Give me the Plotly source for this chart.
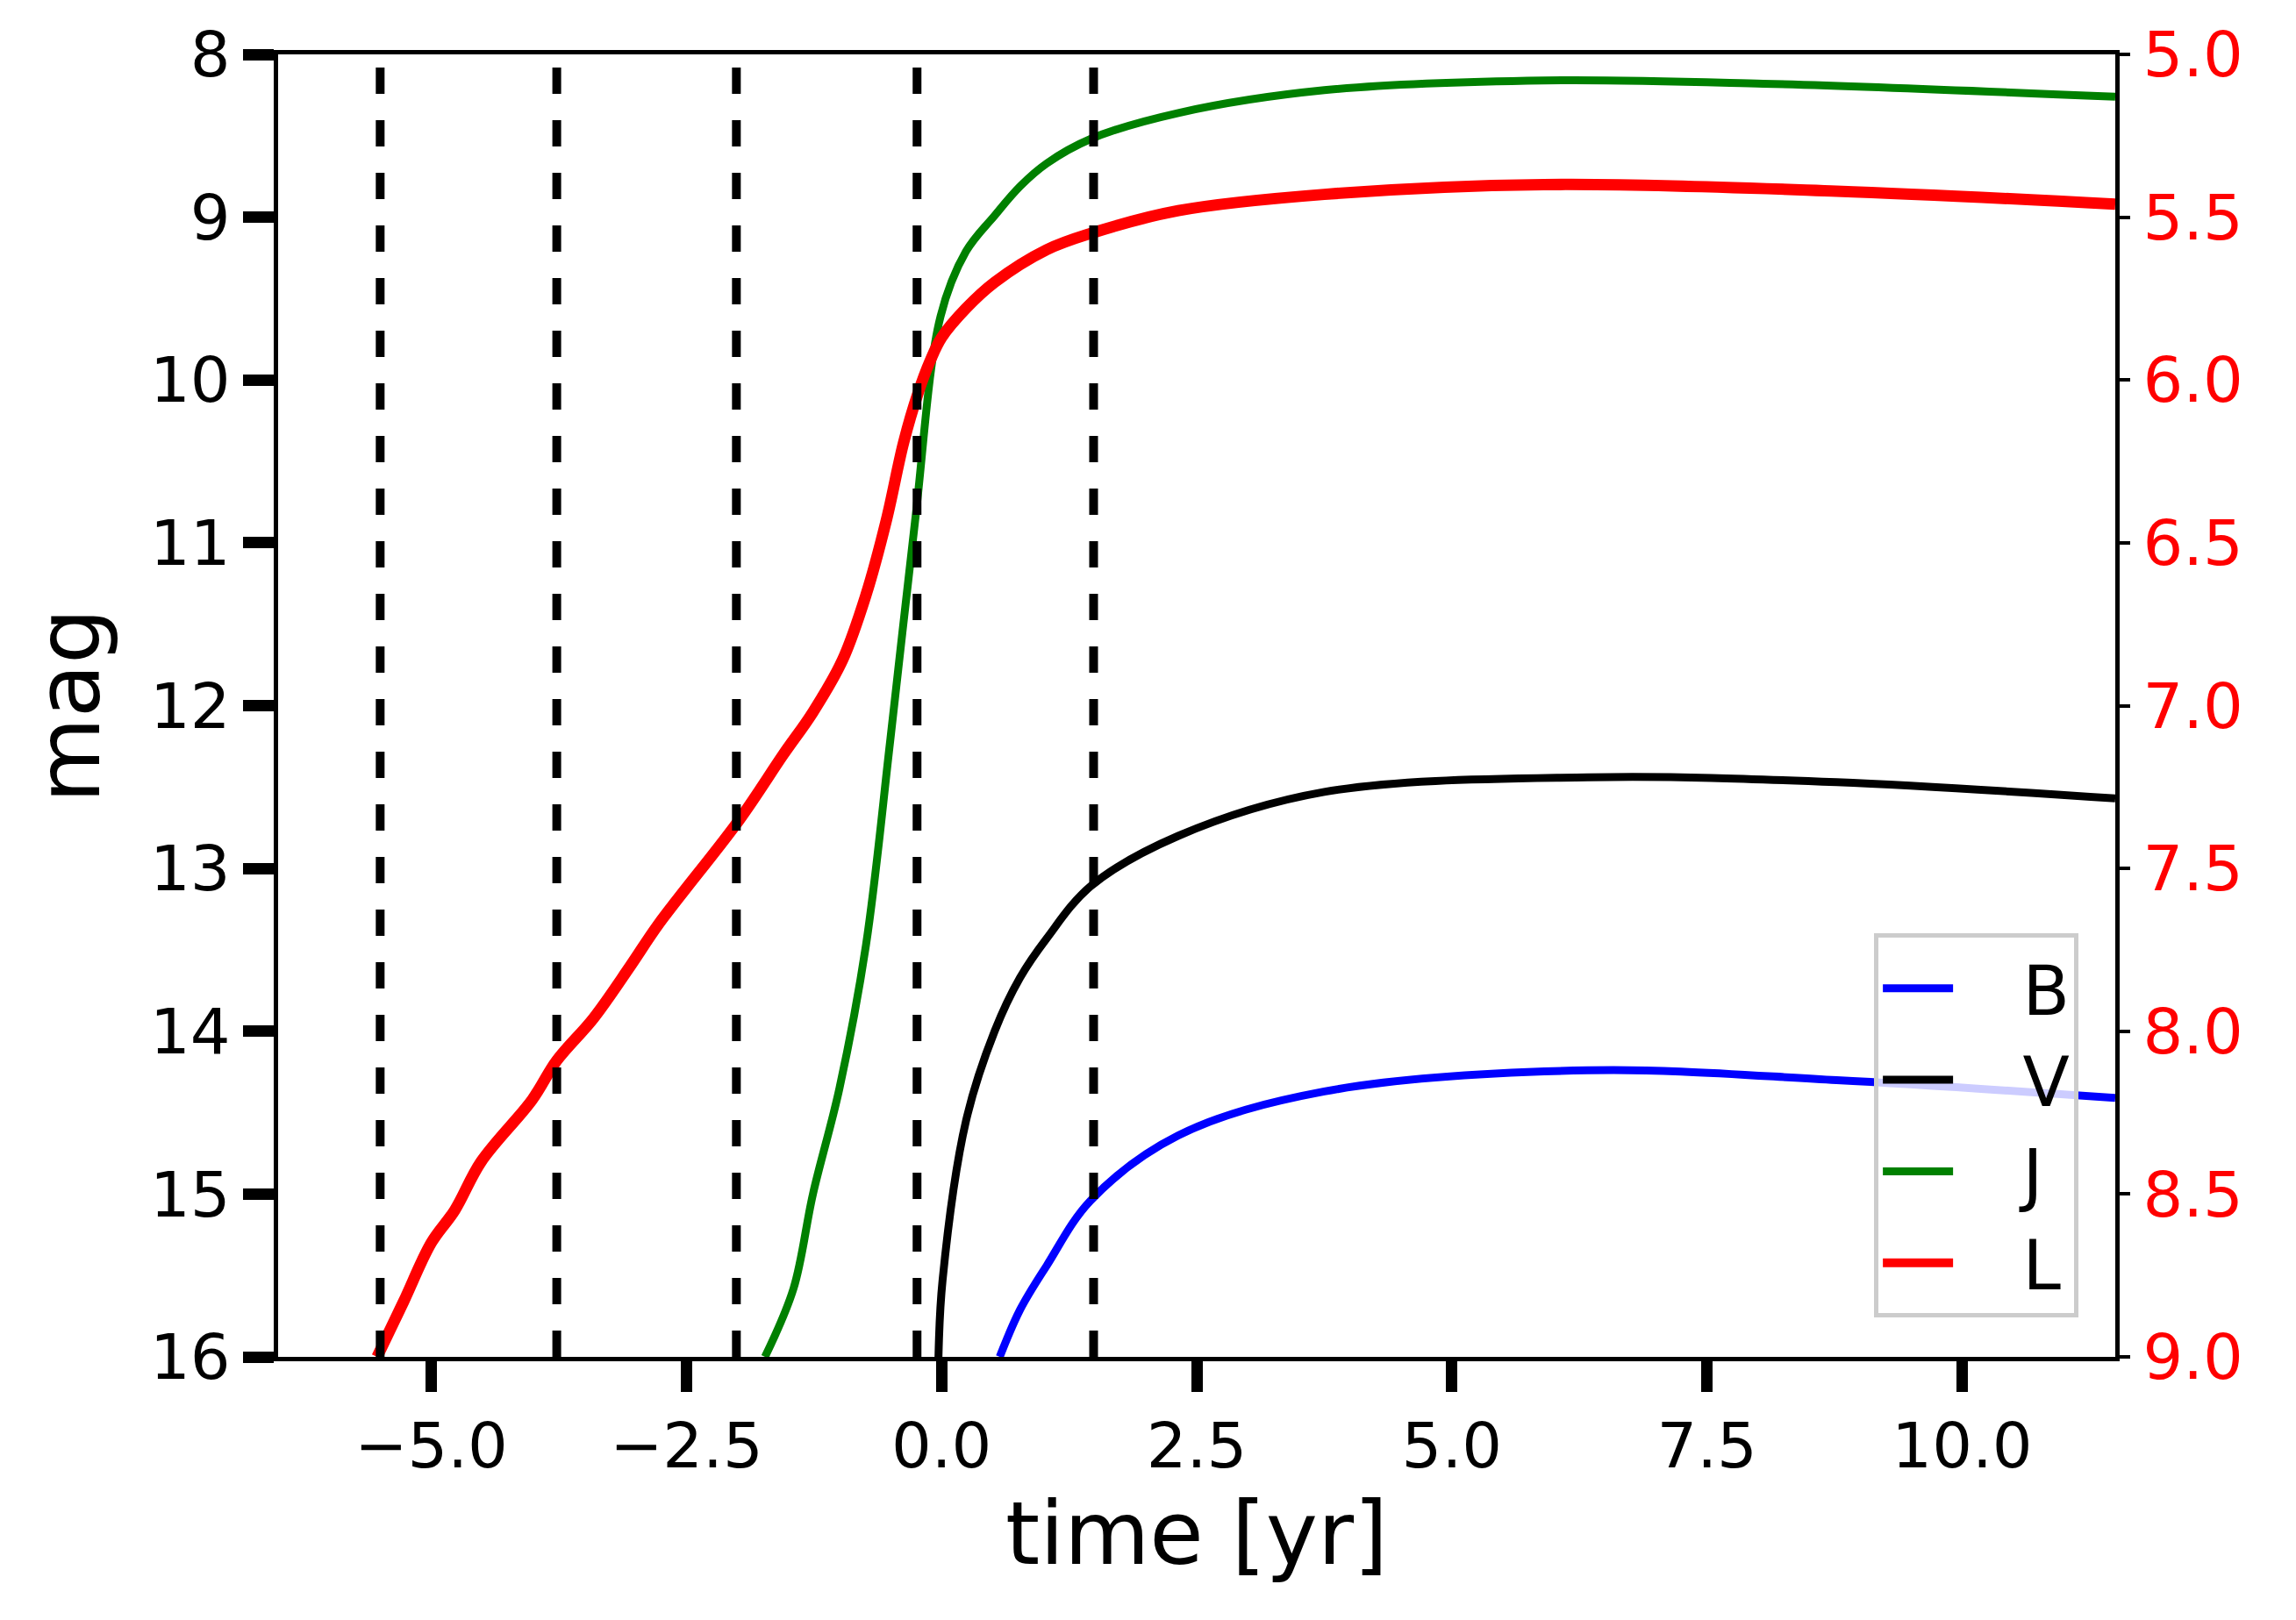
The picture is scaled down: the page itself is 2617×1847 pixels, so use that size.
import plotly.graph_objects as go

# light curves (left axis: mag, L on right axis)
t_J = [-1.73, -1.45, -1.26, -1.0, -0.74, -0.5, -0.26, -0.01, 0.24, 0.52, 0.77, 1.03, 1.46, 2.32, 3.75, 5.9, 8.05, 11.5]
m_J = [16.0, 15.58, 15.0, 14.35, 13.47, 12.2, 10.87, 9.61, 9.21, 8.99, 8.81, 8.67, 8.52, 8.36, 8.22, 8.16, 8.18, 8.26]

t_V = [-0.03, 0.01, 0.24, 0.52, 0.77, 1.03, 1.46, 2.32, 3.75, 6.33, 8.77, 11.5]
m_V = [16.0, 15.53, 14.55, 14.0, 13.67, 13.43, 13.11, 12.8, 12.53, 12.44, 12.47, 12.57]

t_B = [0.57, 0.77, 1.03, 1.46, 2.32, 3.75, 6.33, 8.77, 11.5]
m_B = [16.0, 15.71, 15.44, 15.04, 14.64, 14.37, 14.24, 14.3, 14.41]

t_L = [-5.53, -5.27, -5.0, -4.77, -4.51, -4.01, -3.77, -3.41, -3.05, -2.77, -1.98, -1.55, -1.26,
       -0.97, -0.74, -0.54, -0.37, -0.23, -0.11, 0.0, 0.24, 0.52, 1.03, 1.46, 2.32, 3.75, 5.9, 8.77, 11.5]
m_L = [9.0, 8.83, 8.65, 8.55, 8.40, 8.21, 8.09, 7.96, 7.80, 7.67, 7.35, 7.15, 7.02,
       6.86, 6.66, 6.43, 6.19, 6.04, 5.94, 5.87, 5.78, 5.70, 5.60, 5.55, 5.48, 5.43, 5.40, 5.42, 5.46]

vline_times = [-5.5, -3.77, -2.01, -0.24, 1.49]

font = "DejaVu Sans"
fig = go.Figure()
# legend entries in order B, V, J, L
fig.add_trace(go.Scatter(x=t_B, y=m_B, mode="lines", name="   B", line=dict(color="blue", width=9, shape="spline")))
fig.add_trace(go.Scatter(x=t_V, y=m_V, mode="lines", name="   V", line=dict(color="black", width=9, shape="spline")))
fig.add_trace(go.Scatter(x=t_J, y=m_J, mode="lines", name="   J", line=dict(color="green", width=9, shape="spline")))
fig.add_trace(go.Scatter(x=t_L, y=m_L, mode="lines", name="   L", yaxis="y2",
                         line=dict(color="red", width=13, shape="spline")))

for t in vline_times:
    fig.add_shape(type="line", x0=t, x1=t, y0=0, y1=1, xref="x", yref="paper",
                  line=dict(color="black", width=10, dash="dash"))

fig.update_layout(
    width=2617, height=1847,
    margin=dict(l=309, r=214, t=50, b=308),
    plot_bgcolor="white", paper_bgcolor="white",
    font=dict(family=font, size=72, color="black"),
    xaxis=dict(range=[-6.5, 11.5], tickvals=[-5, -2.5, 0, 2.5, 5, 7.5, 10],
               ticktext=["\u22125.0", "\u22122.5", "0.0", "2.5", "5.0", "7.5", "10.0"],
               ticks="outside", ticklen=35, tickwidth=13, tickcolor="black",
               showgrid=False, zeroline=False, showline=True, linecolor="black", linewidth=5,
               mirror=True, title=dict(text="time [yr]", font=dict(size=100), standoff=20)),
    yaxis=dict(range=[16, 8], tickvals=list(range(8, 17)), ticks="outside", ticklen=35,
               tickwidth=13, tickcolor="black", showgrid=False, zeroline=False,
               showline=True, linecolor="black", linewidth=5,
               title=dict(text="mag", font=dict(size=100), standoff=25)),
    yaxis2=dict(range=[9, 5], overlaying="y", side="right", tickvals=[5, 5.5, 6, 6.5, 7, 7.5, 8, 8.5, 9],
                ticktext=["5.0", "5.5", "6.0", "6.5", "7.0", "7.5", "8.0", "8.5", "9.0"],
                tickfont=dict(color="red", size=72), ticks="outside", ticklen=12, tickwidth=4,
                tickcolor="black", showgrid=False, zeroline=False, showline=True,
                linecolor="black", linewidth=5),
    legend=dict(x=0.98, y=0.03, xanchor="right", yanchor="bottom",
                bgcolor="rgba(255,255,255,0.8)", bordercolor="#cccccc", borderwidth=5,
                font=dict(size=78), tracegroupgap=0, itemwidth=80),
    showlegend=True,
)

fig.write_html("out.html")
